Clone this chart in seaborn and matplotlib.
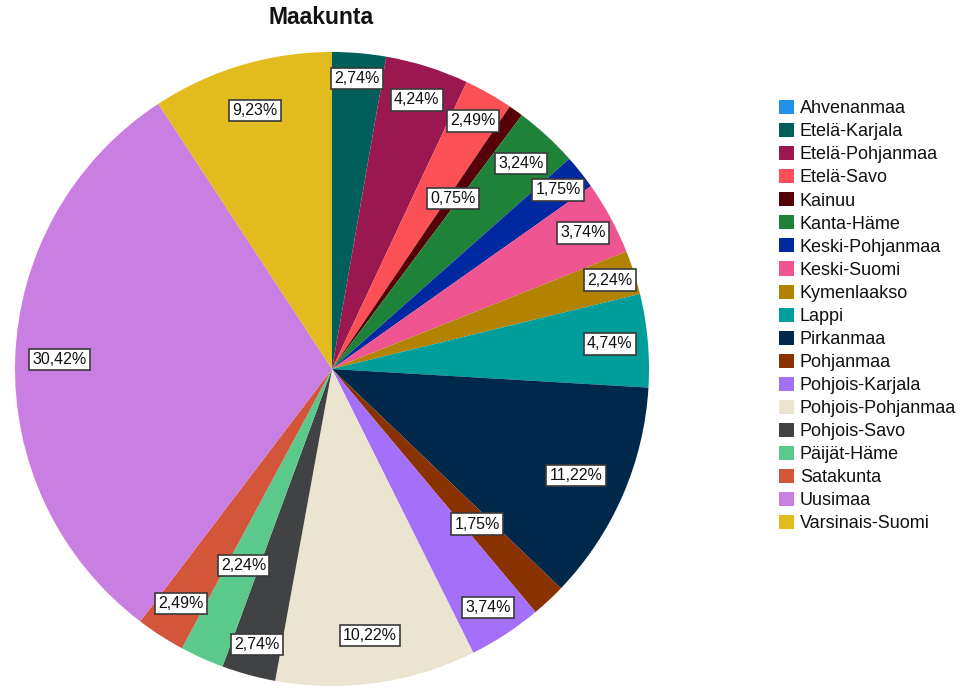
import numpy as np
import matplotlib
matplotlib.use("Agg")
import matplotlib.pyplot as plt
import seaborn as sns

sns.set_theme(style="white")
plt.rcParams['font.family'] = ['Liberation Sans', 'DejaVu Sans']

regions = ["Ahvenanmaa", "Etelä-Karjala", "Etelä-Pohjanmaa", "Etelä-Savo", "Kainuu",
           "Kanta-Häme", "Keski-Pohjanmaa", "Keski-Suomi", "Kymenlaakso", "Lappi",
           "Pirkanmaa", "Pohjanmaa", "Pohjois-Karjala", "Pohjois-Pohjanmaa",
           "Pohjois-Savo", "Päijät-Häme", "Satakunta", "Uusimaa", "Varsinais-Suomi"]
percent = [0.00, 2.74, 4.24, 2.49, 0.75, 3.24, 1.75, 3.74, 2.24, 4.74,
           11.22, 1.75, 3.74, 10.22, 2.74, 2.24, 2.49, 30.42, 9.23]

colors = ["#2191e6", "#005f5b", "#9a1750", "#fa5056", "#560008", "#1f8239",
          "#0028a0", "#ee5591", "#b38300", "#009e9a", "#00284a", "#8a3100",
          "#a46ff9", "#ebe4d1", "#414244", "#5bc98b", "#d3553a", "#c97fe1", "#e2bb1f"]
palette = sns.color_palette(colors)

# radial position of each percentage label (fraction of radius)
label_r = [0.0, 0.92, 0.89, 0.90, 0.66, 0.88, 0.91, 0.90, 0.92, 0.88,
           0.84, 0.67, 0.90, 0.85, 0.90, 0.68, 0.88, 0.86, 0.85]

fig = plt.figure(figsize=(9.66, 6.88), dpi=100)
ax = fig.add_axes([15/966, 2/688, 634/966, 634/688])

wedges, _ = ax.pie(percent, colors=palette, startangle=90, counterclock=False,
                   radius=1.0, wedgeprops=dict(linewidth=0, edgecolor='none'))
for w in wedges:
    w.set_clip_on(False)
ax.set_xlim(-1, 1)
ax.set_ylim(-1, 1)
ax.set_aspect('equal')
ax.axis('off')

for w, v, r in zip(wedges, percent, label_r):
    if v <= 0:
        continue
    mid = np.deg2rad((w.theta1 + w.theta2) / 2)
    x, y = r * np.cos(mid), r * np.sin(mid)
    ax.text(x, y, f"{v:.2f}".replace('.', ',') + '%', ha='center', va='center',
            fontsize=11.5, color='#111111',
            bbox=dict(boxstyle='square,pad=0.2', fc='white', ec='#3a3a3a', lw=1.2))

fig.text(321/966, 1 - 18/688, "Maakunta", ha='center', va='center',
         fontsize=16.5, fontweight='bold', color='#111111')

fig.legend(wedges, regions, loc='upper left', bbox_to_anchor=(779/966, 1 - 100/688),
           frameon=False, fontsize=13, handlelength=0.82, handleheight=0.82,
           handletextpad=0.33, labelspacing=0.32, borderpad=0, borderaxespad=0,
           labelcolor='#111111')

fig.savefig("out.png", dpi=100, facecolor='white')
